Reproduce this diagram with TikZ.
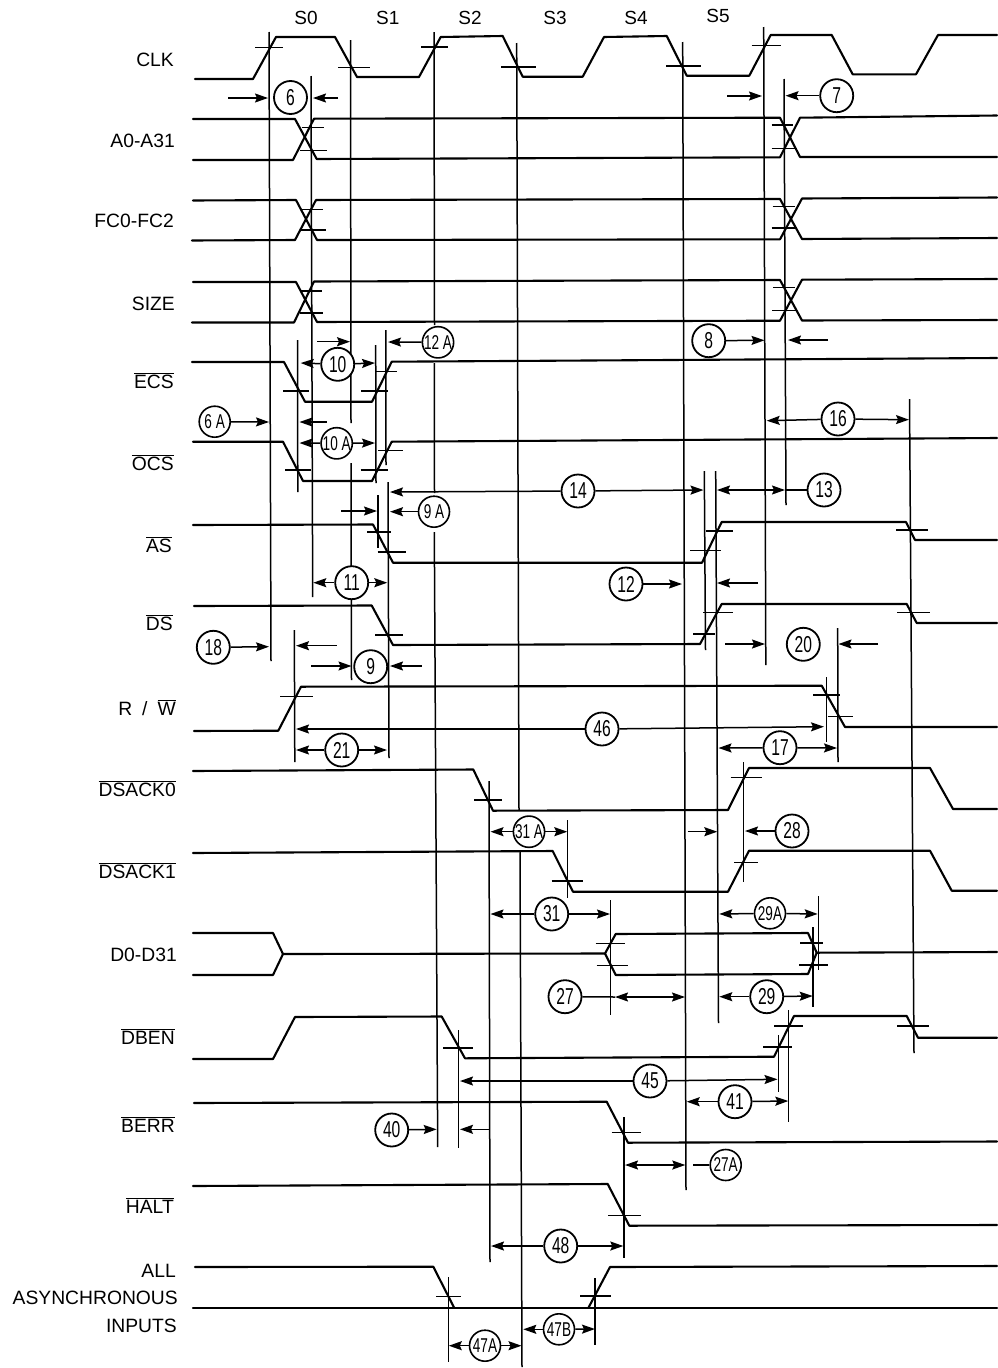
\documentclass[tikz,border=0pt]{standalone}
\usepackage{fontspec}
\setmainfont{Liberation Sans}
\newfontfamily\circfont[FakeStretch=0.68]{Liberation Sans}
\usetikzlibrary{arrows.meta}
\newcommand{\freearrow}[3]{\coordinate (#1s) at (#2); \coordinate (#1e) at (#3); \draw[dimarrow] (#1s) -- (#1e);}
\newcommand{\arrfrom}[3]{\coordinate (#3) at (#2); \draw[dimarrow] (#1) -- (#3);}
\tikzset{
  signal/.style={line width=2.1pt,line join=round,line cap=round},
  vline/.style={line width=1.5pt},
  tick/.style={line width=1.4pt},
  dimarrow/.style={line width=1.5pt,-{Stealth[length=13pt,width=9pt,inset=2pt]}},
  dimboth/.style={line width=1.5pt,{Stealth[length=13pt,width=9pt,inset=2pt]}-{Stealth[length=13pt,width=9pt,inset=2pt]}},
  circ/.style={circle,draw,line width=1.8pt,fill=white,minimum size=33pt,inner sep=0pt,font=\circfont\fontsize{23}{23}\selectfont},
  circs/.style={circle,draw,line width=1.6pt,fill=white,minimum size=31pt,inner sep=0pt,font=\circfont\fontsize{20}{20}\selectfont},
  lab/.style={anchor=base east,inner sep=0pt,font=\fontsize{19.3}{19.3}\selectfont},
  phase/.style={anchor=base,inner sep=0pt,font=\fontsize{19}{19}\selectfont},
}
\begin{document}
\begin{tikzpicture}[x=1pt,y=-1pt]
\useasboundingbox (0,0) rectangle (997,1368);
% vertical reference lines
\draw[vline] (269,32) -- (271,661);
\draw[vline] (311,76) -- (312.7,597);
\draw[vline] (350.5,40) -- (351,423);
\draw[vline] (351,463) -- (351.5,680);
\draw[vline] (434,32) -- (434.5,325);
\draw[vline] (434.3,363) -- (434.5,493);
\draw[vline] (434.3,532) -- (437.7,1147);
\draw[vline] (516.7,43) -- (519,810);
\draw[vline] (520,850) -- (522,1367);
\draw[vline] (682.7,42) -- (686,1190);
\draw[vline] (763.7,27) -- (765.8,665);
\draw[vline] (784,79) -- (786,505);
\draw[vline] (909.5,399) -- (914,1053);
\draw[vline] (704.3,471) -- (705.5,650);
\draw[vline] (715.7,471) -- (718.5,1023);
\draw[vline] (297.5,340) -- (297.8,492);
\draw[vline] (375.7,345) -- (376,483);
\draw[vline] (385.8,330) -- (386,465);
\draw[vline] (378,495) -- (378,548);
\draw[vline] (388,482) -- (389,758);
\draw[vline] (294.3,630) -- (294.8,762);
\draw[vline] (826.7,677) -- (826.7,742);
\draw[vline] (837.7,628) -- (838,762);
\draw[vline] (489,781) -- (490,1262);
\draw[vline] (567.7,820) -- (567.7,898);
\draw[vline] (610.3,900) -- (610.3,1015);
\draw[vline] (743.7,762) -- (743.7,882);
\draw[vline] (818.3,896) -- (818.3,970);
\draw[vline] (813,927) -- (813,1007);
\draw[vline] (778.3,1035) -- (778.3,1092);
\draw[vline] (788.7,1010) -- (788.7,1122);
\draw[vline] (458.7,1030) -- (458.7,1148);
\draw[vline] (624,1117) -- (624,1258);
\draw[vline] (448.3,1277) -- (448.3,1362);
\draw[vline] (595,1278) -- (595,1345);
% signals
\draw[signal] (195,79) -- (253,79) -- (276,37) -- (335,37) -- (357,77) -- (419,77) -- (440.7,37) -- (502.7,36) -- (522.7,76.7) -- (582.7,76.7) -- (604,37) -- (666.7,36) -- (686.7,75.7) -- (749.3,75.7) -- (770.7,35) -- (831.7,35) -- (852.7,74.3) -- (916,74.3) -- (938,35) -- (997,35);
% A0-A31
\draw[signal] (193,119) -- (295,119) -- (316.7,159) -- (780,157.3) -- (800,117.7) -- (997,115.5);
\draw[signal] (193,160) -- (293,160) -- (314,118.7) -- (780,117.7) -- (800,157) -- (997,157);
% FC
\draw[signal] (193,200.5) -- (296,200) -- (317,240) -- (780,239.3) -- (802,198.5) -- (997,197.5);
\draw[signal] (192,240.5) -- (295,240) -- (316,200) -- (780,199) -- (802,239) -- (997,238);
% SIZE
\draw[signal] (193,282) -- (296,282) -- (317,322) -- (780,320.7) -- (802,279.7) -- (997,279);
\draw[signal] (192,322.5) -- (294,322.5) -- (314,281.5) -- (780,280) -- (802,320.5) -- (997,320);
% ECS OCS AS DS
\draw[signal] (192,362) -- (284,362) -- (305,401.7) -- (372,401.7) -- (391.7,361.7) -- (997,358);
\draw[signal] (193,441.7) -- (283,441.7) -- (303,481) -- (372,481) -- (391.7,441.7) -- (997,438);
\draw[signal] (193,525) -- (373,524.5) -- (393,562.7) -- (702,562.7) -- (721.7,522) -- (906,522) -- (915,540) -- (997,540);
\draw[signal] (194,606) -- (371.7,605.5) -- (393,645) -- (700,644) -- (721.7,604) -- (906.7,604) -- (916.7,623) -- (997,623);
% R/W
\draw[signal] (194,731) -- (278.3,730.7) -- (301,686.7) -- (821.7,685.7) -- (845,727) -- (997,727);
% DSACK
\draw[signal] (193,771) -- (473.3,769.5) -- (493,810.7) -- (728,810) -- (749,768) -- (930,768) -- (953,809) -- (997,809);
\draw[signal] (193,853) -- (552.7,851) -- (573,891.7) -- (728,891.7) -- (749,850.7) -- (930,850.7) -- (951.7,890.7) -- (997,890.7);
% D0-D31
\draw[signal] (193,933) -- (273,933) -- (283,954) -- (273,975) -- (193,975);
\draw[signal] (283,954) -- (605,953.5) -- (615.7,934) -- (808,933) -- (816.7,952.7) -- (997,952);
\draw[signal] (605,953.5) -- (615.7,975) -- (808,974) -- (816.7,952.7);
% DBEN BERR HALT
\draw[signal] (193,1059) -- (273,1059) -- (295,1017) -- (441.7,1016.5) -- (465,1058.3) -- (774,1056.7) -- (794,1016) -- (906.7,1016) -- (918,1037.7) -- (997,1037.7);
\draw[signal] (194,1103) -- (606.7,1101.7) -- (628,1142.7) -- (997,1141.5);
\draw[signal] (193,1186) -- (607.7,1184) -- (629.3,1225.7) -- (997,1225);
% async
\draw[signal] (195,1267) -- (433.3,1266.7) -- (454.3,1308);
\draw[signal] (193,1308) -- (997,1308);
\draw[signal] (588.3,1308) -- (610,1267) -- (997,1266);
% ticks
\foreach \a/\b/\y in {255/283/47.7,338/370/67.5,421/448/47,501/535.7/67,666/700.7/66,751.7/781/45.3,
 301.7/324/127.7,300/326.7/150.3,771.7/793.3/125,771.7/796.7/148.3,
 302/323/209.5,300/326/230,772.7/795/206.7,771.7/796.7/228,
 300/322/291,300/323/313,773/795/287.7,772.3/796.7/310.7,
 283/309/391,361/388/391,376/396.7/371.7,
 285/310.7/470,360.7/388/470,378/403/450.7,
 367/391/532,377.7/406/552,690/721/550.7,705.7/733/531,896/927.7/530,
 375/402.7/635,693/715/634,703/732.7/612.7,897/930/612.7,
 280/312.7/696.7,813.3/840/695,827.7/853/716.7,
 474/501.7/800,730.7/761.7/777.7,
 551.7/583/881,734/757.7/862.7,
 595.7/625/943.7,596.7/628/965.7,800/822.7/943,799/828/965,
 443/473/1048,763/791.7/1047,774/803/1026,897/929/1026,
 611.7/641/1132.3,608/641/1215.3,436/460.7/1296.7,580/610.7/1296}
  {\draw[tick] (\a,\y) -- (\b,\y);}
% number circles
\node[circ] (c6) at (290.5,97.5) {6};
\node[circ] (c7) at (836.7,95.7) {7};
\node[circ] (c8) at (708.7,340.7) {8};
\node[circ] (c10) at (337.7,364.3) {10};
\node[circs] (c12A) at (438,342.3) {12 A};
\node[circ] (c16) at (838,419) {16};
\node[circ] (c13) at (824,490) {13};
\node[circ] (c14) at (578,491) {14};
\node[circs] (c6A) at (214.7,421.7) {6 A};
\node[circs] (c10A) at (336.7,443.3) {10 A};
\node[circs] (c9A) at (434,511.7) {9 A};
\node[circ] (c11) at (351.7,582.7) {11};
\node[circ] (c12) at (626,584) {12};
\node[circ] (c18) at (213.3,647.3) {18};
\node[circ] (c9) at (370.7,666.7) {9};
\node[circ] (c20) at (803.3,644.3) {20};
\node[circ] (c21) at (341.7,750) {21};
\node[circ] (c46) at (602,729) {46};
\node[circ] (c17) at (780,747.7) {17};
\node[circs] (c31A) at (529,831.7) {31 A};
\node[circ] (c28) at (792,831) {28};
\node[circ] (c31) at (551.7,914) {31};
\node[circs] (c29A) at (770,913.3) {29A};
\node[circ] (c27) at (565,996.7) {27};
\node[circ] (c29) at (766.7,996.7) {29};
\node[circ] (c45) at (650,1081) {45};
\node[circ] (c41) at (735,1101.7) {41};
\node[circ] (c40) at (391.7,1130) {40};
\node[circs] (c27A) at (725.7,1165) {27A};
\node[circ] (c48) at (560.7,1246) {48};
\node[circs] (c47A) at (485,1345.7) {47A};
\node[circs] (c47B) at (559,1329.3) {47B};
% dimension arrows
\freearrow{a6l}{228,98}{268,98}
\freearrow{a6r}{338,98}{313,98}
\freearrow{a7l}{727.3,96}{762,96}
\arrfrom{c7}{785.5,95.7}{e7}
\arrfrom{c8}{764.5,340.3}{e8}
\freearrow{a8r}{828,340}{788,340}
\freearrow{a10t}{317,341.7}{350,341.7}
\arrfrom{c10}{300.7,363}{e10l}
\arrfrom{c10}{375,363}{e10r}
\arrfrom{c12A}{388,342}{e12A}
\arrfrom{c16}{766.7,420.7}{e16l}
\arrfrom{c16}{909,419.7}{e16r}
\coordinate (e13l) at (717,490); \coordinate (e13r) at (785,490);
\draw[dimboth] (e13l) -- (e13r);
\draw[line width=1.5pt] (e13r) -- (c13);
\arrfrom{c14}{390,492}{e14l}
\arrfrom{c14}{703.5,490}{e14r}
\arrfrom{c6A}{269,422}{e6A}
\freearrow{a10Ab}{326.7,422}{299.5,422}
\arrfrom{c10A}{299.5,443}{e10Al}
\arrfrom{c10A}{375,443}{e10Ar}
\arrfrom{c9A}{390,511.7}{e9A}
\freearrow{a9Al}{341,511}{377,511}
\arrfrom{c11}{313.3,582.7}{e11l}
\arrfrom{c11}{387.3,582.7}{e11r}
\arrfrom{c12}{682,584}{e12}
\freearrow{a12r}{758,583}{717,583}
\arrfrom{c18}{269,646.7}{e18}
\freearrow{a18r}{336.7,645.7}{296,645.7}
\freearrow{a9l}{311,666}{351.5,666}
\freearrow{a9r}{421.7,666}{390,666}
\freearrow{a20l}{725,644}{765,644}
\freearrow{a20r}{878,644}{838.5,644}
\arrfrom{c21}{296,750}{e21l}
\arrfrom{c21}{387,750}{e21r}
\arrfrom{c46}{296,729}{e46l}
\arrfrom{c46}{824,726.7}{e46r}
\arrfrom{c17}{718.5,748}{e17l}
\arrfrom{c17}{837,748}{e17r}
\arrfrom{c31A}{490.5,831.7}{e31Al}
\arrfrom{c31A}{567.3,831.7}{e31Ar}
\arrfrom{c28}{745,831}{e28}
\freearrow{a28l}{687.7,831.7}{717.3,831.7}
\arrfrom{c31}{490.5,914}{e31l}
\arrfrom{c31}{610,914}{e31r}
\arrfrom{c29A}{719.3,914}{e29Al}
\arrfrom{c29A}{817.7,914}{e29Ar}
\coordinate (e27l) at (615,997); \coordinate (e27r) at (685,997);
\draw[line width=1.5pt] (c27) -- (e27l);
\draw[dimboth] (e27l) -- (e27r);
\arrfrom{c29}{719.3,996.7}{e29l}
\arrfrom{c29}{812.7,996}{e29r}
\arrfrom{c45}{460,1081}{e45l}
\arrfrom{c45}{777.5,1079.3}{e45r}
\arrfrom{c41}{686.7,1101.7}{e41l}
\arrfrom{c41}{788.3,1101}{e41r}
\arrfrom{c40}{436.7,1129.3}{e40}
\freearrow{a40r}{489.3,1129.3}{460,1129.3}
\coordinate (e27Al) at (625,1165); \coordinate (e27Ar) at (685.3,1165); \coordinate (e27At) at (693,1165);
\draw[dimboth] (e27Al) -- (e27Ar);
\draw[line width=1.5pt] (e27At) -- (c27A);
\arrfrom{c48}{491,1246}{e48l}
\arrfrom{c48}{623.3,1246}{e48r}
\arrfrom{c47A}{448.8,1345.7}{e47Al}
\arrfrom{c47A}{521.5,1345.7}{e47Ar}
\arrfrom{c47B}{523.3,1329.3}{e47Bl}
\arrfrom{c47B}{595,1329}{e47Br}
% labels
\node[phase] (s0) at (306,24.5) {S0};
\node[phase] (s1) at (387.7,24.5) {S1};
\node[phase] (s2) at (470,24.5) {S2};
\node[phase] (s3) at (555,24.5) {S3};
\node[phase] (s4) at (636,24.5) {S4};
\node[phase] (s5) at (718,22.7) {S5};
\node[lab] (lclk) at (174,66) {CLK};
\node[lab] (la) at (175,147) {A0-A31};
\node[lab] (lfc) at (174,227) {FC0-FC2};
\node[lab] (lsize) at (175,310) {SIZE};
\node[lab] (lecs) at (174,388) {$\overline{\mbox{ECS}}$};
\node[lab] (locs) at (174,470) {$\overline{\mbox{OCS}}$};
\node[lab] (las) at (172,552) {$\overline{\mbox{AS}}$};
\node[lab] (lds) at (173,630) {$\overline{\mbox{DS}}$};
\node[lab] (lrw) at (176,715) {R\hspace{10pt}/\hspace{10pt}$\overline{\mbox{W}}$};
\node[lab] (ld0) at (176,796) {$\overline{\mbox{DSACK0}}$};
\node[lab] (ld1) at (176,878) {$\overline{\mbox{DSACK1}}$};
\node[lab] (ldd) at (177,961) {D0-D31};
\node[lab] (ldben) at (175,1044) {$\overline{\mbox{DBEN}}$};
\node[lab] (lberr) at (175,1132) {$\overline{\mbox{BERR}}$};
\node[lab] (lhalt) at (174,1213) {$\overline{\mbox{HALT}}$};
\node[lab] (lall) at (176,1277) {ALL};
\node[lab] (lasy) at (178,1304) {ASYNCHRONOUS};
\node[lab] (linp) at (177,1332) {INPUTS};
\end{tikzpicture}
\end{document}
